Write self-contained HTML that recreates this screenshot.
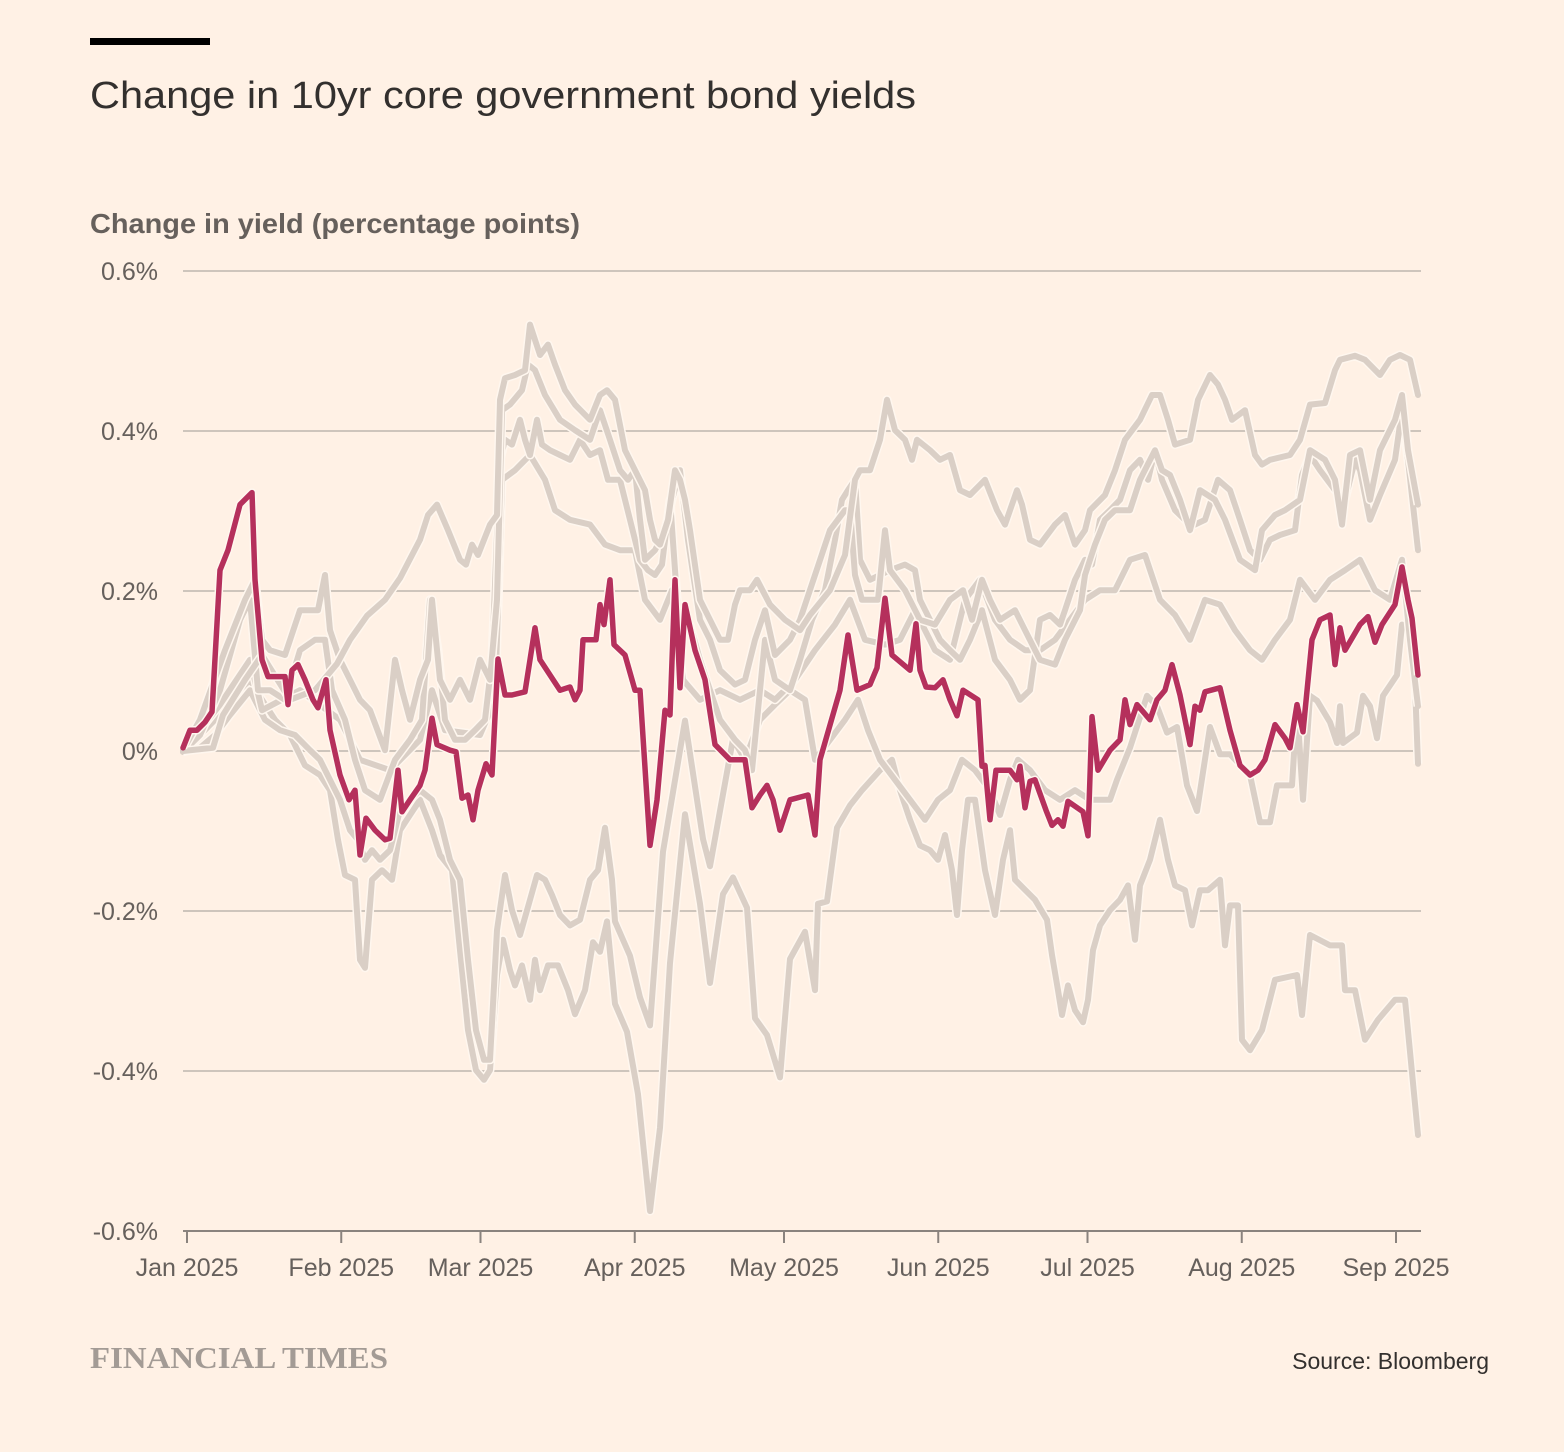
<!DOCTYPE html>
<html><head><meta charset="utf-8">
<style>
html,body{margin:0;padding:0;background:#fff1e5;}
svg{display:block;}
text{font-family:"Liberation Sans",sans-serif;}
</style></head>
<body>
<svg id="chart" width="1564" height="1452" viewBox="0 0 1564 1452" xmlns="http://www.w3.org/2000/svg">
<rect x="0" y="0" width="1564" height="1452" fill="#fff1e5"/>
<rect x="90" y="38" width="120" height="7" fill="#000"/>
<text x="90" y="108" font-size="38" fill="#33302e" textLength="826" lengthAdjust="spacingAndGlyphs">Change in 10yr core government bond yields</text>
<text x="90" y="233" font-size="28" font-weight="bold" fill="#66605c" textLength="490" lengthAdjust="spacingAndGlyphs">Change in yield (percentage points)</text>
<g id="grid"></g>
<g id="yticks"></g>
<g id="xaxis"></g>
<g id="series"></g>
<text x="90" y="1368" font-size="31" font-weight="bold" fill="#a39b95" style="font-family:'Liberation Serif',serif" textLength="298" lengthAdjust="spacingAndGlyphs">FINANCIAL TIMES</text>
<text x="1489" y="1369" font-size="23" fill="#33302e" text-anchor="end">Source: Bloomberg</text>
</svg>
<script>
const yTicks = [0.6, 0.4, 0.2, 0, -0.2, -0.4, -0.6];
const yTickLabels = ["0.6%", "0.4%", "0.2%", "0%", "-0.2%", "-0.4%", "-0.6%"];
const monthDays = [0, 31, 59, 90, 120, 151, 181, 212, 243];
const monthLabels = ["Jan 2025","Feb 2025","Mar 2025","Apr 2025","May 2025","Jun 2025","Jul 2025","Aug 2025","Sep 2025"];

const redDays = [-0.8,0.6,2,3.6,5,6.6,8.2,10.6,13,13.6,15,16.2,19.6,20.2,21,22.2,23.6,25.2,26.2,27.8,28.6,30.6,32.4,33.6,34.6,35.8,37.6,39.6,40.6,42.2,43,44.6,46.6,47.6,49,50,52.6,53.8,55,56.2,57.2,58.2,59.8,61,62.2,63.6,65,67.6,69.6,70.6,72.6,74.6,76.6,77.6,78.6,79.2,81.8,82.6,83.4,84.6,85.4,87.6,89.6,90.6,92.6,94,95.6,96.6,97.6,98.6,99.6,101.6,103.6,105.6,108.6,111.6,113,114.6,116,117.2,118.6,120.6,124.2,125.6,126.6,130.6,132.2,134,136.6,138,139.6,141,144.6,145.8,146.6,147.8,149.6,151.2,152.6,154,155.2,158.2,159,159.6,160.6,161.8,164.6,166,166.6,167.6,168.6,169.6,171.8,173,174.2,175.2,176.2,179.2,180.2,181,182.2,184.6,186.6,187.6,188.6,190,192.6,194,195.6,197,198.6,200.6,201.6,202.6,203.6,206.6,208.6,210.6,212.6,214.2,215.6,217.6,219.6,220.6,222,223.2,225,226.6,228.6,229.6,230.6,231.6,234.6,236.2,237.6,239,241.6,243,244.2,245,246.2];
const redValues = [0.4,2.6,2.6,3.6,4.9,22.6,25.1,30.8,32.3,21.4,11.4,9.3,9.3,5.8,10.1,10.8,8.9,6.4,5.4,8.9,2.6,-3,-6.1,-4.9,-13,-8.4,-9.9,-11.1,-10.9,-2.4,-7.6,-6.1,-4.3,-2.4,4.1,0.8,0.1,-0.1,-5.9,-5.5,-8.6,-4.9,-1.6,-3,11.5,7,7,7.4,15.4,11.4,9.5,7.6,8,6.4,7.6,13.9,13.9,18.3,15.8,21.4,13.3,12,7.6,7.6,-11.8,-6.1,5.1,4.5,21.4,7.9,18.3,12.6,8.9,0.8,-1.1,-1.1,-7.1,-5.5,-4.3,-6.1,-9.9,-6.1,-5.5,-10.5,-1.1,7.6,14.5,7.6,8.3,10.4,19.1,12,10.1,15.9,10.1,8,7.9,8.9,6.4,4.4,7.6,6.4,-1.9,-1.8,-8.6,-2.4,-2.4,-3.6,-1.9,-7.1,-3.8,-3.6,-7.4,-9.3,-8.6,-9.4,-6.3,-7.6,-10.6,4.3,-2.4,0.1,1.4,6.4,3.3,5.8,3.9,6.4,7.6,10.8,7,0.8,5.6,5.1,7.4,7.9,2.6,-1.8,-3,-2.4,-1.1,3.3,1.6,0.4,5.8,2.4,13.9,16.4,17,10.8,15.4,12.6,15.8,16.8,13.6,15.8,18.3,23,18.9,16.6,9.5];

const g1Days = [-0.8,5.2,7.2,11.6,15,20.6,25.6,30,32.6,36,39.6,42.6,46.6,48.2,50,52.2,54.6,55.8,57,58.2,60.6,62,62.6,63.6,65.6,67.6,68.6,69.6,70.6,72.2,73.6,75.6,77.6,80.6,82.6,84,85.6,87.6,89.6,91.6,92.6,93.6,94.6,96.2,97.6,98.6,99.6,100.6,102.6,104.6,106.6,108.2,109.6,110.6,112.6,114,116.6,119.6,122.6,124.6,128.6,131.6,133.6,134.6,136.6,138.6,140,141.6,143.6,145,146,148.6,150.6,152.6,154.6,156.6,159.6,162,163.6,166,167,168.6,170.6,173.6,175.6,177.6,179.6,180.6,183.6,185.6,187.6,190.6,193,194.6,196.2,197.6,200.6,202.2,204.6,206.2,207.6,209,211.6,213.6,215,216.6,220.6,222.6,224.6,227.6,229.6,230.6,233.6,235.6,238.6,240.6,242.6,244.6,246.2];
const g1Values = [0,0.4,4.5,8.9,12,6.4,7.6,10.9,13.9,16.9,18.9,21.6,26.4,29.5,30.8,27.6,23.9,23.3,25.8,24.5,28.3,29.5,43.9,46.6,47,47.6,53.3,51.4,49.5,50.8,48.3,45.1,43.3,41.4,44.5,45.1,43.9,37.6,35.1,32.6,28.9,26.4,25.8,28.9,35.1,33.9,31.4,27.6,18.9,16.4,13.9,13.9,18.3,20.1,20.1,21.4,18.3,16.4,15.1,17,20.1,24.5,33.9,35.1,35.1,38.9,43.9,40.1,38.9,36.4,38.9,37.6,36.4,37,32.6,32,33.9,30.1,28.3,32.6,30.8,26.4,25.8,28.3,29.5,25.8,27.6,30.1,32,35.1,38.9,41.4,44.5,44.5,41.4,38.3,38.9,43.9,47,45.8,43.9,41.4,42.6,37,35.8,36.4,37,38.9,43.3,43.5,47.6,48.9,49.4,48.9,47,48.9,49.5,48.9,44.5];

const g2Days = [-0.8,2.6,7.6,11.6,13.6,15,16.6,19.6,22.6,26.2,27.6,28.6,30.6,32.6,34.6,36.6,39.6,41.6,43,44.6,46.6,48.2,49,50.6,52.6,54.6,56.6,58.6,60.6,62,63,64.6,67,68.2,69.6,71.6,74.6,77.6,80.6,82.6,84.6,86.6,88.2,89.6,90.6,91.6,93.6,95.6,97,98.6,100.2,102.6,104.6,106.6,109.6,111.6,113.6,115.6,117.6,120.6,122.6,125.6,128.6,131.6,132.6,133.6,135,138.2,139.6,140.6,143.6,146.6,149.6,152.6,155.2,157,159,160.6,162.6,165.6,167.6,170.6,173.6,175.6,178.6,179.6,181.6,183.6,185.6,188.6,190.6,193.6,195,196.6,198.6,200.6,202.6,205.6,207.6,210.6,213.6,215,217.6,219.6,222.6,224.6,227.6,229.6,231,232.6,234.6,236.6,238.6,241.6,243,244.2,246.2];
const g2Values = [0.1,3.9,12.6,18.9,21.4,13.9,12.6,12,17.6,17.6,22,15.1,11.4,8.9,6.4,5.1,0.1,11.4,7.6,3.9,8.9,11.4,18.9,8.9,6.4,8.9,6.4,11.4,8.9,18.9,42.6,43.3,45.1,48.3,47.6,44.5,41.4,40.1,38.9,42.6,38.9,35.1,33.9,35.1,28.9,23.9,25.1,27.6,31.4,35.1,26.4,16.4,13.9,10.1,8.3,8.9,13.9,17.6,12,13.9,16.4,22,27.6,30.1,30.1,22,18.9,18.9,27.6,22.6,20.1,16.4,15.8,18.9,20.1,16.4,21.4,18.9,16.4,17.6,15.1,11.4,10.8,13.9,17.6,22,25.8,28.9,30.1,30.1,33.9,37.6,35.1,34.5,31.4,27.6,32.6,31.4,28.9,23.9,22.6,27.6,29.5,30.1,31.4,37.6,36.4,33.9,28.3,37,37.6,31.4,37.6,41.4,44.5,37.6,30.8];

const g3Days = [-0.8,2.6,6.6,10.6,12.6,14.2,16.6,19.6,22.6,25.6,27.6,29,31.6,33.6,35.6,38.6,41.6,44.6,47,48.6,50.2,51.6,53.6,55.6,57.6,59.6,61,62.6,63.6,65,66.6,67.6,68.6,70,71,72.6,74.6,76.6,78.6,80.6,82.6,84.2,86.6,88.6,90.6,92.2,93.6,95,96.6,98.6,100.6,102.6,104.6,106.6,109.6,111.6,113,115.6,117.6,120.6,122.6,125,127.6,129.6,131,132.2,133.6,134.6,136.6,140.6,143.6,145.6,146.6,148.6,150.6,152.6,154.6,156.6,159,161.6,164.6,166.6,168.6,170.6,172.6,174.6,175.6,177.6,179.6,181,182.6,184.6,186.6,188.6,190.6,192.2,193.6,195,197.6,199.6,201.6,203.6,206.2,208.6,210.6,212.6,214.6,216.6,218.6,221.6,223,224.6,226.6,229.6,231.6,233.6,234.6,236.6,238.6,241.6,243,244.2,246.2];
const g3Values = [-0.1,2,7.6,16.4,18.9,7.6,7.6,6.4,12.6,13.9,13.9,7.6,3.9,-1.1,-4.9,-6.1,-1.1,1.4,3.9,18.9,12.6,3.9,1.4,1.4,2.6,3.9,11.4,36.4,38.9,38.3,41.4,38.9,37,41.4,38.3,37.6,37,36.4,38.9,37,37.6,33.9,33.9,28.9,23.9,22.6,22,23.3,31.4,13.9,15.8,11.4,7.6,3.9,1.4,0.1,-2.4,13.9,8.9,7.6,11.4,16.4,20.1,26.4,31.4,32.6,33.9,23.9,21.4,22.6,23.3,22.6,18.9,16.4,13.9,12.6,11.4,13.9,17.6,11.4,8.9,6.4,7.6,16.4,17,15.8,17.6,21.4,23.9,23.3,28.9,30.1,31.4,35.1,36.4,33.9,37.6,33.9,30.1,28.9,28.3,28.9,33.9,32.6,28.9,25.1,23.9,26.4,27,27.6,34.5,37,35.1,32.6,31.4,36.4,35.1,28.9,32,36.4,42.6,36.4,25.1];

const g4Days = [-0.8,6.6,12.6,15,22.6,30.6,34.6,40.6,46.6,49,51.6,58.6,61.6,63,65.6,68.6,71.6,73.6,76.6,80.6,83.6,86.6,89.6,91.6,94.6,97,99.2,102.6,106.6,110.6,114.6,117.6,121.6,125.6,129.6,132.6,135.6,139.6,142.6,145.6,149.6,152.6,155.6,158.6,161.6,164.6,167.6,170.6,173.6,176.6,179.6,182.6,185.6,188.6,191.6,194.6,197.6,200.6,203.6,206.6,209.6,212.6,215,217.6,220.6,222.6,225.6,228.6,231.6,234.6,237.6,240.6,243,244.6,246.2];
const g4Values = [-0.1,5.8,11.4,5.1,7.6,3.9,-1.1,-2.4,1.4,7.6,2.6,2,6.4,33.9,35.1,37,33.9,30.1,28.9,28.3,25.8,25.1,25.1,18.9,16.4,20.1,8.9,6.4,7.6,6.4,7.6,6.4,8.9,12.6,15.8,18.9,13.9,13.3,13.9,17.6,12.6,11.4,18.9,21.4,16.4,13.9,12.6,12.6,13.9,16.4,18.9,20.1,20.1,23.9,24.5,18.9,17,13.9,18.9,18.3,15.1,12.6,11.4,13.9,16.4,21.4,18.9,21.4,22.6,23.9,20.1,18.9,23.9,13.9,5.6];

const g5Days = [-0.8,2.6,5.6,8.6,12.6,15,17.6,20.6,23.6,26.6,28.6,30.2,31.6,33.6,34.6,35.6,37,39,41,42.6,44.6,46.6,49,50.6,53,54.6,56.2,57.8,59.4,60.6,62,63.2,64.6,65.6,67,68.6,69.6,70.6,72.2,74.2,76.2,77.6,79.6,81.2,82.6,84,85.6,88,90.2,92.6,94.6,96.6,99.6,102.6,104.6,107.2,109.2,112,113.6,116,118.6,120.6,123.6,125.6,126.2,128,130,132.6,135,138.6,141,142.6,144.6,146.6,148.6,150.2,151.6,153,154,155,156.2,157.6,159.6,161.6,163.2,164.6,165.6,169.6,172,173,174.2,175,176.2,177.6,179.2,180.2,181.2,182.6,184.6,186.6,188.2,189.6,190.6,192.6,194.6,196.2,197.6,199.6,201,202.6,204.2,206.6,207.6,208.6,210.2,211,212.6,215,217.6,222,223,224.6,228.6,231,231.6,233.6,235.6,238.2,241.6,243.6,246.2];
const g5Values = [-0.1,2,3.9,6.4,8.9,6.4,3.9,2,-1.8,-3,-4.9,-11.1,-15.5,-16.1,-26.1,-27.1,-16.1,-14.9,-16.1,-9.9,-8,-6.1,-9.9,-13,-14.9,-24.9,-34.9,-39.9,-41.1,-39.9,-28,-23.6,-27.4,-29.3,-26.8,-31.1,-26.1,-29.9,-26.8,-26.8,-29.9,-32.9,-29.9,-23.9,-25.1,-21.3,-31.6,-35.1,-42.9,-57.5,-47.1,-26.5,-7.9,-19.1,-29,-17.9,-15.8,-19.6,-33.4,-35.5,-40.8,-26,-22.6,-29.9,-19.1,-18.8,-9.6,-6.8,-4.9,-2.4,-1.1,-4.9,-8.6,-11.8,-12.4,-13.6,-10.5,-14.9,-20.5,-12.4,-6.1,-6.1,-14.9,-20.5,-13.6,-9.9,-16.1,-18.6,-21.1,-25.5,-29.9,-33,-29.3,-32.4,-33.9,-31.1,-24.9,-21.8,-19.9,-18.6,-16.8,-23.6,-16.8,-13.6,-8.6,-13.6,-16.8,-17.4,-21.8,-17.4,-17.4,-16.1,-24.3,-19.3,-19.3,-36.1,-37.4,-34.9,-28.6,-28,-33,-23,-24.3,-24.3,-29.9,-29.9,-36.1,-33.6,-31.1,-31.1,-48];

const g6Days = [-0.8,2.6,5.6,8.6,12.6,15.6,18.6,21.6,24.6,26.6,28.6,30.6,32.6,34.2,35.6,37,38.6,40.6,42.6,44.6,46.6,49,50.6,52.6,54.6,56.2,57.8,59.4,60.6,62,63.6,65,66.6,68.6,70,71.6,73,74.6,76.6,78.6,80.6,82.2,83.6,85,85.6,88.6,90.6,92.6,95.2,99.6,103.2,104.6,109.2,111.6,114.6,117.6,120.6,123.6,125.6,128.6,131.6,134.2,136.2,138.6,141.6,144.6,147.6,150.2,152.6,155,157.6,160.6,162.6,164.6,166.2,168.6,171.6,174.6,177.6,180.6,184.6,186,188.6,192,194,196,198,200,202,204.6,206.6,208.6,212.6,214.6,216.6,218,221,222,223.2,224.6,226,228.6,230,230.6,231.2,234,235.2,236.6,238,239.2,242,243,245.2,246.2];
const g6Values = [-0.1,0.4,2,4.5,7.6,3.9,2.6,2,0.1,-1.1,-3.6,-6.1,-9.9,-11.1,-13.6,-12.4,-13.6,-12.4,-7.4,-6.1,-4.9,-6.1,-8.6,-13.6,-16.1,-26.1,-34.9,-38.6,-38.6,-22.4,-15.5,-19.9,-23,-18.6,-15.5,-16.1,-18,-20.5,-21.8,-21.1,-16.1,-14.9,-9.6,-16.1,-21.3,-25.6,-30.8,-34.3,-12.6,3.8,-11,-14.4,1.5,-1.1,3.9,5.8,7.6,6.4,-1.1,1.4,3.9,6.4,2.6,-1.1,-3.6,-6.1,-8.6,-6.1,-4.9,-1.1,-2.4,-4.9,-8,-3.6,-1.1,-2.4,-4.9,-6.1,-4.9,-6.1,-6.1,-3.6,0.4,6.9,5.6,2.3,3,-4.3,-7.5,3,-0.4,-0.4,-3,-8.9,-8.9,-4.3,-4.3,5.6,-6.1,6.9,6.3,3.6,1,5.6,1,2.3,6.9,5.6,1.6,6.9,9.5,15.8,14.8,-1.6];

const X0 = 187, PX_PER_DAY = 5;
const Y0 = 751, PX_PER_PCT = 800;
function xScale(day){ return X0 + day * PX_PER_DAY; }
function yScale(pct){ return Y0 - pct * PX_PER_PCT; }
function yFromBp(bp){ return yScale(bp / 100); }

const NS = "http://www.w3.org/2000/svg";
const grid = document.getElementById('grid');
const yt = document.getElementById('yticks');
const xa = document.getElementById('xaxis');
const sg = document.getElementById('series');

yTicks.forEach((v, i) => {
  const y = yScale(v);
  if (v !== -0.6) {
    const ln = document.createElementNS(NS, 'line');
    ln.setAttribute('x1', 183); ln.setAttribute('x2', 1421);
    ln.setAttribute('y1', y); ln.setAttribute('y2', y);
    ln.setAttribute('stroke', '#cec5bc'); ln.setAttribute('stroke-width', 2);
    
    
    grid.appendChild(ln);
  }
  const t = document.createElementNS(NS, 'text');
  t.setAttribute('x', 158); t.setAttribute('y', y + 9);
  t.setAttribute('text-anchor', 'end'); t.setAttribute('font-size', 25);
  t.setAttribute('fill', '#66605c');
  t.textContent = yTickLabels[i];
  
  
  yt.appendChild(t);
});

const base = document.createElementNS(NS, 'line');
base.setAttribute('x1', 183); base.setAttribute('x2', 1421);
base.setAttribute('y1', yScale(-0.6)); base.setAttribute('y2', yScale(-0.6));
base.setAttribute('stroke', '#8a837e'); base.setAttribute('stroke-width', 2);


xa.appendChild(base);

monthDays.forEach((d, i) => {
  const x = xScale(d) - i * 0.75;
  const tk = document.createElementNS(NS, 'line');
  tk.setAttribute('x1', x); tk.setAttribute('x2', x);
  tk.setAttribute('y1', yScale(-0.6)); tk.setAttribute('y2', yScale(-0.6) + 12);
  tk.setAttribute('stroke', '#8a837e'); tk.setAttribute('stroke-width', 2);
  
  
  xa.appendChild(tk);
  const t = document.createElementNS(NS, 'text');
  t.setAttribute('x', x); t.setAttribute('y', 1276);
  t.setAttribute('text-anchor', 'middle'); t.setAttribute('font-size', 25);
  t.setAttribute('fill', '#66605c');
  t.textContent = monthLabels[i];
  
  
  xa.appendChild(t);
});

function pathFor(days, vals){
  return days.map((d, i) => (i ? 'L' : 'M') + xScale(d).toFixed(1) + ',' + yFromBp(vals[i]).toFixed(1)).join(' ');
}
function drawSeries(days, vals, color, name, w){
  const halo = document.createElementNS(NS, 'path');
  halo.setAttribute('d', pathFor(days, vals));
  halo.setAttribute('fill', 'none'); halo.setAttribute('stroke', '#fff7ef');
  halo.setAttribute('stroke-width', w + 3); halo.setAttribute('stroke-linejoin', 'round');
  
  
  sg.appendChild(halo);
  const p = document.createElementNS(NS, 'path');
  p.setAttribute('d', pathFor(days, vals));
  p.setAttribute('fill', 'none'); p.setAttribute('stroke', color);
  p.setAttribute('stroke-width', w); p.setAttribute('stroke-linejoin', 'round');
  p.setAttribute('stroke-linecap', 'round');
  
  
  sg.appendChild(p);
}
const grey = '#dacfc6';
drawSeries(g5Days, g5Values, grey, 'series-grey-5', 6);
drawSeries(g6Days, g6Values, grey, 'series-grey-6', 6);
drawSeries(g4Days, g4Values, grey, 'series-grey-4', 6);
drawSeries(g3Days, g3Values, grey, 'series-grey-3', 6);
drawSeries(g2Days, g2Values, grey, 'series-grey-2', 6);
drawSeries(g1Days, g1Values, grey, 'series-grey-1', 6);
drawSeries(redDays, redValues, '#b5305c', 'series-highlight', 5.5);
</script>
</body></html>
